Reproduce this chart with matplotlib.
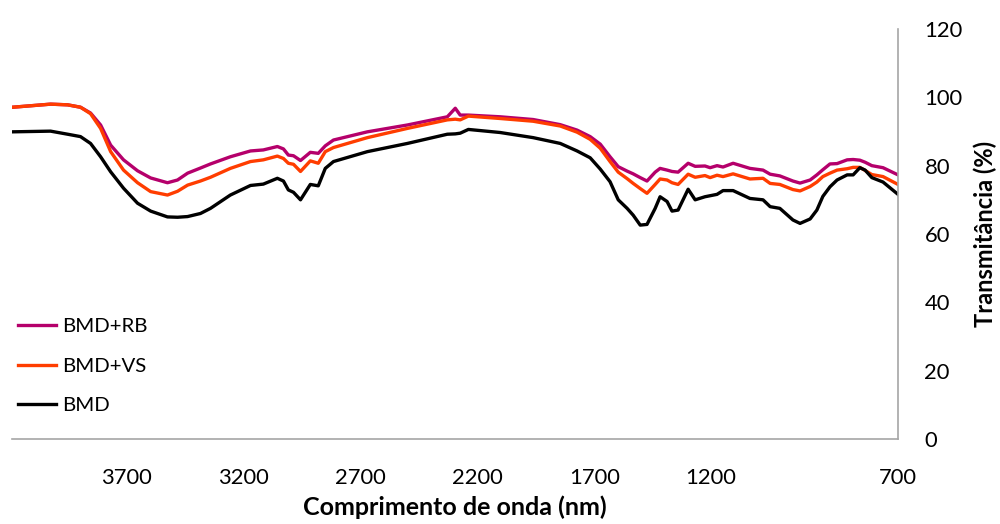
import numpy as np
import matplotlib
matplotlib.use("Agg")
import matplotlib.pyplot as plt

plt.rcParams['font.family'] = ['Lato', 'DejaVu Sans']

# comprimento de onda (eixo x, decrescente)
wave = [4187, 4025, 3952, 3897, 3854, 3811, 3768, 3713, 3653, 3597,
        3525, 3482, 3439, 3384, 3341, 3256, 3170, 3115, 3055, 3029,
        3008, 2986, 2956, 2914, 2880, 2850, 2815, 2670, 2499, 2328,
        2294, 2273, 2238, 2102, 1961, 1845, 1773, 1717, 1674, 1632,
        1597, 1559, 1533, 1503, 1474, 1439, 1418, 1388, 1367, 1341,
        1298, 1268, 1226, 1204, 1184, 1168, 1141, 1096, 1061, 1042,
        1016, 981, 962, 935, 917, 901, 882, 863, 836, 820,
        802, 788, 770, 740, 700]

bmd_rb = [97.1, 98.0, 97.8, 97.1, 95.4, 91.9, 86.0, 81.7, 78.5, 76.4,
          75.0, 75.8, 77.8, 79.3, 80.5, 82.6, 84.3, 84.6, 85.6, 84.9,
          83.1, 82.9, 81.5, 83.9, 83.6, 85.8, 87.5, 89.9, 91.9, 94.3,
          96.8, 94.8, 94.8, 94.3, 93.5, 92.0, 90.4, 88.5, 86.3, 82.6,
          79.7, 78.4, 77.6, 76.5, 75.5, 78.1, 79.2, 78.7, 78.3, 78.1,
          80.7, 79.8, 79.9, 79.4, 80.0, 79.6, 80.7, 79.2, 78.7, 77.5,
          77.0, 75.5, 74.9, 75.8, 77.3, 78.8, 80.5, 80.6, 81.7, 81.8,
          81.6, 81.0, 80.0, 79.4, 77.3]

bmd_vs = [97.1, 98.0, 97.8, 97.1, 95.2, 90.9, 84.1, 78.7, 75.0, 72.4,
          71.4, 72.5, 74.3, 75.5, 76.6, 79.2, 81.2, 81.7, 82.8, 82.1,
          80.7, 80.4, 78.3, 81.4, 80.7, 84.1, 85.3, 88.2, 90.9, 93.4,
          93.6, 93.4, 94.5, 93.8, 93.0, 91.6, 89.8, 87.7, 85.1, 81.2,
          78.1, 76.2, 74.8, 73.3, 71.9, 74.5, 76.1, 75.8, 75.0, 74.5,
          77.5, 76.6, 77.1, 76.5, 77.2, 76.8, 77.6, 76.1, 76.3, 74.8,
          74.5, 73.0, 72.6, 73.9, 75.2, 76.8, 77.8, 78.7, 79.1, 79.5,
          79.5, 78.6, 77.4, 76.8, 74.5]

bmd = [89.9, 90.1, 89.2, 88.5, 86.5, 82.6, 78.2, 73.4, 69.0, 66.7,
       65.0, 64.9, 65.1, 66.0, 67.5, 71.4, 74.2, 74.6, 76.3, 75.5,
       72.9, 72.2, 70.0, 74.5, 74.1, 79.2, 81.2, 84.1, 86.5, 89.2,
       89.3, 89.5, 90.6, 89.7, 88.2, 86.5, 84.3, 82.3, 79.0, 75.3,
       70.0, 67.5, 65.5, 62.6, 62.8, 67.5, 70.9, 69.5, 66.7, 67.0,
       73.1, 70.0, 70.9, 71.2, 71.6, 72.7, 72.7, 70.4, 70.0, 68.0,
       67.5, 64.1, 63.1, 64.4, 67.0, 71.0, 73.8, 75.8, 77.3, 77.3,
       79.4, 78.7, 76.5, 75.2, 71.6]

xticks = [3700, 3200, 2700, 2200, 1700, 1200, 700]
yticks = [0, 20, 40, 60, 80, 100, 120]

# eixo de categorias do Excel: o ultimo intervalo (1200-700) e mais largo
anchor_w = [700, 1200, 4190]
anchor_p = [0.0, 0.211, 1.0]


def fwd(w):
    return np.interp(w, anchor_w, anchor_p)


def inv(p):
    return np.interp(p, anchor_p, anchor_w)


fig = plt.figure(figsize=(10, 5.24), dpi=100)
ax = fig.add_axes([0.012, 0.1622, 0.886, 0.7825])
ax.set_xscale('function', functions=(fwd, inv))

ax.plot(wave, bmd_rb, color='#B5006B', lw=2.4, label='BMD+RB')
ax.plot(wave, bmd_vs, color='#FF3D00', lw=2.4, label='BMD+VS')
ax.plot(wave, bmd, color='black', lw=2.4, label='BMD')

ax.set_xlim(4190, 700)
ax.set_ylim(0, 120)
ax.set_xticks(xticks)
ax.set_xticklabels([str(t) for t in xticks])
ax.set_yticks(yticks)
ax.minorticks_off()

ax.yaxis.tick_right()
ax.yaxis.set_label_position('right')
ax.tick_params(axis='x', length=0, pad=21, labelsize=15.8)
ax.tick_params(axis='y', length=0, pad=19, labelsize=15.8)

for s in ['top', 'left']:
    ax.spines[s].set_visible(False)
for s in ['right', 'bottom']:
    ax.spines[s].set_color('#A6A6A6')
    ax.spines[s].set_linewidth(1.2)

ax.set_xlabel('Comprimento de onda (nm)', fontsize=18, fontweight='bold', labelpad=5)
ax.set_ylabel('Transmitância (%)', fontsize=17, fontweight='bold', labelpad=8)

ax.legend(loc='lower left', bbox_to_anchor=(-0.003, 0.04), frameon=False,
          fontsize=14.7, handlelength=1.9, handletextpad=0.3, labelspacing=1.1,
          borderaxespad=0)

fig.savefig('out.png', dpi=100)
